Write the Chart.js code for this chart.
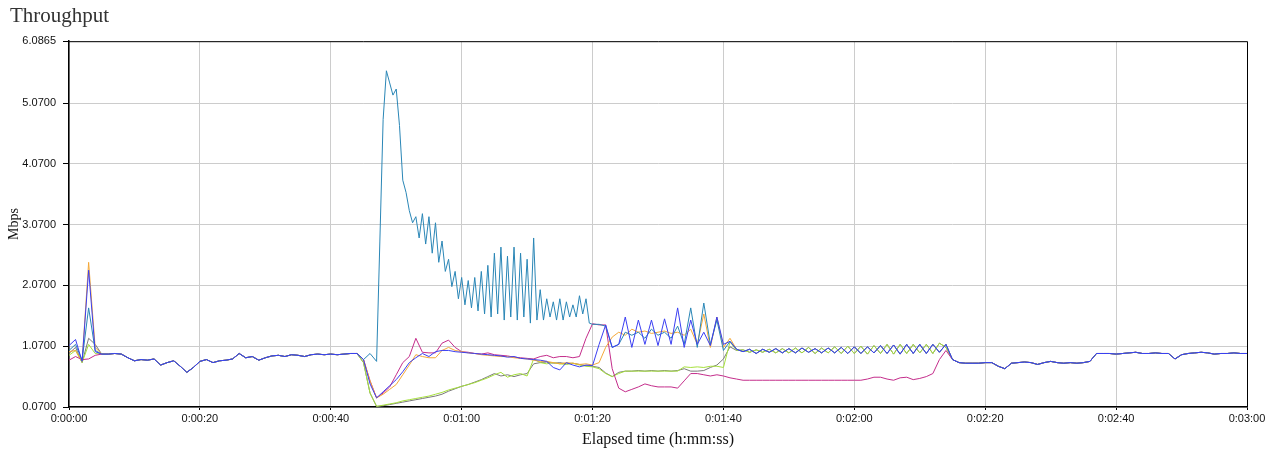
<!DOCTYPE html>
<html>
<head>
<meta charset="utf-8">
<title>Throughput</title>
<script src="https://cdn.jsdelivr.net/npm/chart.js@4/dist/chart.umd.min.js"></script>
<style>
    html, body { margin: 0; padding: 0; background: #fff; }
    #wrap { width: 1280px; height: 455px; position: relative; }
</style>
</head>
<body>
<div id="wrap"><canvas id="throughputChart"></canvas></div>
<script>
// Y axis tick values (Mbps) and x axis range (seconds)
const yTicks = [0.07, 1.07, 2.07, 3.07, 4.07, 5.07, 6.0865];
const xMax = 180;
const xStep = 20;

// first seconds (t = 0..5), each series has its own start spike
const blueStart = [1.08, 1.18, 0.82, 2.32, 0.98, 0.94];
const tealStart = [1.00, 1.10, 0.84, 1.70, 1.00, 0.94];
const orangeStart = [0.98, 1.00, 0.82, 2.45, 1.05, 0.94];
const magentaStart = [0.84, 0.90, 0.85, 0.86, 0.92, 0.94];
const greenStart = [0.92, 1.00, 0.80, 1.10, 0.95, 0.94];
const grayStart = [0.95, 1.05, 0.80, 1.20, 1.10, 0.94];

// shared part, t = 6..44
const commonHead = [0.94, 0.95, 0.94, 0.88, 0.83, 0.85, 0.84, 0.86, 0.76, 0.80,
    0.83, 0.74, 0.64, 0.72, 0.82, 0.85, 0.80, 0.83, 0.84, 0.86,
    0.95, 0.88, 0.90, 0.84, 0.88, 0.91, 0.92, 0.90, 0.93, 0.92,
    0.90, 0.93, 0.94, 0.93, 0.94, 0.93, 0.94, 0.95, 0.95];

// middle part, t = 45..101
const blueMid = [0.85, 0.45, 0.22, 0.32, 0.42, 0.52, 0.65, 0.80, 0.88, 0.95,
    0.90, 0.98, 1.00, 1.00, 0.98, 0.97, 0.96, 0.95, 0.94, 0.93,
    0.92, 0.91, 0.89, 0.90, 0.87, 0.86, 0.85, 0.84, 0.82, 0.72,
    0.68, 0.80, 0.76, 0.73, 0.76, 0.75, 1.10, 1.42, 1.05, 1.10,
    1.55, 1.05, 1.50, 1.10, 1.50, 1.08, 1.52, 1.10, 1.70, 1.05,
    1.50, 1.10, 1.30, 1.08, 1.55, 1.10, 1.15];
const orangeMid = [0.85, 0.50, 0.22, 0.28, 0.36, 0.44, 0.60, 0.76, 0.93, 0.90,
    0.88, 0.88, 1.00, 1.05, 1.00, 0.98, 0.96, 0.95, 0.93, 0.92,
    0.91, 0.90, 0.90, 0.88, 0.87, 0.86, 0.84, 0.82, 0.82, 0.80,
    0.78, 0.80, 0.79, 0.77, 0.78, 0.76, 0.80, 1.05, 1.22, 1.30,
    1.25, 1.35, 1.30, 1.32, 1.28, 1.30, 1.32, 1.28, 1.30, 1.25,
    1.35, 1.10, 1.60, 1.05, 1.55, 1.05, 1.20];
const magentaMid = [0.85, 0.50, 0.22, 0.30, 0.40, 0.60, 0.80, 0.90, 1.20, 0.97,
    0.96, 0.96, 1.12, 1.17, 1.05, 0.98, 0.97, 0.95, 0.94, 0.96,
    0.93, 0.92, 0.91, 0.89, 0.88, 0.87, 0.86, 0.90, 0.92, 0.88,
    0.90, 0.90, 0.88, 0.90, 1.20, 1.44, 1.42, 1.42, 0.70, 0.38,
    0.32, 0.36, 0.40, 0.45, 0.42, 0.40, 0.40, 0.40, 0.38, 0.50,
    0.62, 0.62, 0.60, 0.58, 0.60, 0.58, 0.55];
const greenMid = [0.80, 0.30, 0.08, 0.10, 0.12, 0.14, 0.17, 0.19, 0.21, 0.23,
    0.25, 0.28, 0.31, 0.35, 0.38, 0.41, 0.44, 0.47, 0.51, 0.55,
    0.60, 0.64, 0.56, 0.60, 0.62, 0.58, 0.86, 0.80, 0.78, 0.80,
    0.78, 0.77, 0.79, 0.76, 0.74, 0.73, 0.70, 0.62, 0.57, 0.62,
    0.66, 0.66, 0.66, 0.66, 0.66, 0.66, 0.66, 0.66, 0.66, 0.73,
    0.72, 0.73, 0.72, 0.74, 0.74, 0.72, 1.14];
const grayMid = [0.80, 0.30, 0.08, 0.09, 0.11, 0.13, 0.15, 0.17, 0.19, 0.21,
    0.23, 0.25, 0.28, 0.33, 0.37, 0.41, 0.44, 0.48, 0.52, 0.57,
    0.62, 0.58, 0.60, 0.57, 0.60, 0.62, 0.78, 0.80, 0.81, 0.79,
    0.80, 0.78, 0.79, 0.77, 0.75, 0.74, 0.72, 0.63, 0.57, 0.64,
    0.66, 0.66, 0.67, 0.66, 0.67, 0.66, 0.67, 0.66, 0.67, 0.70,
    0.66, 0.66, 0.67, 0.72, 0.76, 0.86, 1.06];

// teal has the big burst, read at half-second steps: [seconds, Mbps]
const tealMid = [[45, 0.85], [46, 0.95], [47, 0.82], [47.5, 2.8], [48, 4.8], [48.5, 5.6], [49, 5.4], [49.5, 5.2],
    [50, 5.3], [50.5, 4.7], [51, 3.8], [51.5, 3.6], [52, 3.3], [52.5, 3.1], [53, 3.2], [53.5, 2.85],
    [54, 3.25], [54.5, 2.75], [55, 3.2], [55.5, 2.6], [56, 3.1], [56.5, 2.45], [57, 2.8], [57.5, 2.3],
    [58, 2.5], [58.5, 2.05], [59, 2.3], [59.5, 1.85], [60, 2.2], [60.5, 1.75], [61, 2.15], [61.5, 1.7],
    [62, 2.2], [62.5, 1.65], [63, 2.3], [63.5, 1.6], [64, 2.4], [64.5, 1.55], [65, 2.6], [65.5, 1.6],
    [66, 2.7], [66.5, 1.5], [67, 2.55], [67.5, 1.55], [68, 2.7], [68.5, 1.5], [69, 2.6], [69.5, 1.55],
    [70, 2.5], [70.5, 1.45], [71, 2.85], [71.5, 1.5], [72, 2.0], [72.5, 1.5], [73, 1.85], [73.5, 1.55],
    [74, 1.8], [74.5, 1.5], [75, 1.85], [75.5, 1.5], [76, 1.8], [76.5, 1.55], [77, 1.75], [77.5, 1.55],
    [78, 1.9], [78.5, 1.6], [79, 1.85], [79.5, 1.45], [80, 1.43], [81, 1.43], [82, 1.4], [83, 1.05],
    [84, 1.1], [85, 1.3], [86, 1.25], [87, 1.3], [88, 1.2], [89, 1.35], [90, 1.25], [91, 1.3],
    [92, 1.2], [93, 1.4], [94, 1.1], [95, 1.7], [96, 1.05], [97, 1.78], [98, 1.1], [99, 1.5],
    [100, 1.0], [101, 1.15]];

// zigzag part, t = 102..135
const oscA = [1.02, 0.98, 1.02, 0.95, 1.02, 0.97, 1.03, 0.96, 1.03, 0.96,
    1.04, 0.97, 1.03, 0.96, 1.04, 0.96, 1.05, 0.95, 1.06, 0.95,
    1.06, 0.96, 1.08, 0.95, 1.09, 0.94, 1.10, 0.95, 1.10, 0.95,
    1.10, 0.97, 1.10, 0.85];
const oscB = [1.00, 1.01, 0.97, 1.01, 0.97, 1.02, 0.96, 1.03, 0.96, 1.04,
    0.96, 1.05, 0.95, 1.04, 0.96, 1.06, 0.95, 1.07, 0.95, 1.07,
    0.94, 1.08, 0.95, 1.10, 0.94, 1.10, 0.95, 1.10, 0.96, 1.10,
    0.95, 1.12, 1.05, 0.85];
const magentaLate = [0.53, 0.51, 0.51, 0.51, 0.51, 0.51, 0.51, 0.51, 0.51, 0.51,
    0.51, 0.51, 0.51, 0.51, 0.51, 0.51, 0.51, 0.51, 0.51, 0.51,
    0.53, 0.56, 0.56, 0.53, 0.51, 0.55, 0.56, 0.52, 0.54, 0.57,
    0.62, 0.85, 1.00, 0.85];

// shared part, t = 136..180
const commonTail = [0.80, 0.79, 0.79, 0.79, 0.80, 0.80, 0.74, 0.70, 0.79, 0.80,
    0.81, 0.80, 0.77, 0.80, 0.82, 0.80, 0.79, 0.80, 0.79, 0.80,
    0.82, 0.95, 0.95, 0.95, 0.94, 0.95, 0.96, 0.97, 0.95, 0.95,
    0.96, 0.95, 0.95, 0.86, 0.93, 0.95, 0.96, 0.97, 0.96, 0.94,
    0.95, 0.95, 0.96, 0.95, 0.95];

// glue the pieces into {x, y} points, one sample per second unless given as pairs
function secondsFrom(startSec, values) {
    return values.map((v, i) => ({ x: startSec + i, y: v }));
}

function buildSeries(start, mid, late) {
    const midPts = Array.isArray(mid[0]) ? mid.map(p => ({ x: p[0], y: p[1] })) : secondsFrom(45, mid);
    return [].concat(
        secondsFrom(0, start),
        secondsFrom(6, commonHead),
        midPts,
        secondsFrom(102, late),
        secondsFrom(136, commonTail)
    );
}

function fmtTime(sec) {
    const h = Math.floor(sec / 3600);
    const m = Math.floor(sec / 60) % 60;
    const s = sec % 60;
    return h + ':' + String(m).padStart(2, '0') + ':' + String(s).padStart(2, '0');
}

// draws the black frame round the plot (top and right sides)
const frame = {
    id: 'frame',
    afterDatasetsDraw(chart) {
        const { ctx, chartArea } = chart;
        ctx.save();
        ctx.strokeStyle = '#000';
        ctx.lineWidth = 1;
        ctx.beginPath();
        ctx.moveTo(chartArea.left, chartArea.top + 0.5);
        ctx.lineTo(chartArea.right + 0.5, chartArea.top + 0.5);
        ctx.lineTo(chartArea.right + 0.5, chartArea.bottom);
        ctx.stroke();
        ctx.restore();
    }
};

const line = (label, color, data) => ({
    label: label,
    data: data,
    borderColor: color,
    borderWidth: 1,
    pointRadius: 0,
    tension: 0,
    fill: false
});

new Chart(document.getElementById('throughputChart'), {
    type: 'line',
    data: {
        datasets: [
            line('Blue', '#3b3ff2', buildSeries(blueStart, blueMid, oscA)),
            line('Teal', '#2a86b6', buildSeries(tealStart, tealMid, oscA)),
            line('Orange', '#f4a838', buildSeries(orangeStart, orangeMid, oscA)),
            line('Magenta', '#c42d8b', buildSeries(magentaStart, magentaMid, magentaLate)),
            line('Green', '#a6e03c', buildSeries(greenStart, greenMid, oscB)),
            line('Gray', '#7a7a7a', buildSeries(grayStart, grayMid, oscB))
        ]
    },
    options: {
        responsive: true,
        maintainAspectRatio: false,
        animation: false,
        layout: { padding: { left: 10, right: 33, top: 0, bottom: 0 } },
        plugins: {
            legend: { display: false },
            tooltip: { enabled: false },
            title: {
                display: true,
                text: 'Throughput',
                align: 'start',
                color: '#333',
                font: { family: '"Liberation Serif", serif', size: 21, weight: 'normal', lineHeight: 1.2 },
                padding: { top: 4, bottom: 12 }
            }
        },
        scales: {
            x: {
                type: 'linear',
                min: 0,
                max: xMax,
                border: { color: '#000', width: 1.5 },
                grid: { color: '#cccccc', tickColor: '#000', tickLength: 3 },
                ticks: {
                    stepSize: xStep,
                    maxRotation: 0,
                    padding: 2,
                    color: '#111',
                    font: { family: '"Liberation Sans", sans-serif', size: 11 },
                    callback: v => fmtTime(v)
                },
                title: {
                    display: true,
                    text: 'Elapsed time (h:mm:ss)',
                    color: '#111',
                    font: { family: '"Liberation Serif", serif', size: 16, lineHeight: 1.1 },
                    padding: { top: 0, bottom: 6 }
                },
                afterFit: scale => { scale.height = 48; }
            },
            y: {
                type: 'linear',
                min: yTicks[0],
                max: yTicks[yTicks.length - 1],
                border: { color: '#000', width: 1.5 },
                grid: { color: '#cccccc', tickColor: '#000', tickLength: 6 },
                afterBuildTicks: scale => {
                    scale.ticks = yTicks.map(v => ({ value: v }));
                },
                ticks: {
                    padding: 7,
                    color: '#111',
                    font: { family: '"Liberation Sans", sans-serif', size: 11 },
                    callback: v => Number(v).toFixed(4)
                },
                title: {
                    display: true,
                    text: 'Mbps',
                    color: '#111',
                    font: { family: '"Liberation Serif", serif', size: 14, lineHeight: 1 },
                    padding: { top: -3, bottom: 0 }
                },
                afterFit: scale => { scale.width = 59; }
            }
        }
    },
    plugins: [frame]
});
</script>
</body>
</html>
